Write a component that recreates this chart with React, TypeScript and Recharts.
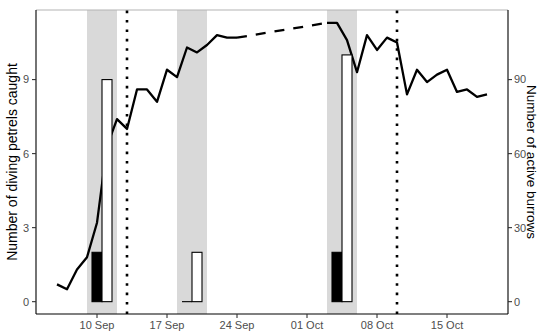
import React from 'react';
import { ComposedChart, Line, Bar, XAxis, YAxis, ReferenceArea, ReferenceLine } from 'recharts';

// Active burrows (right axis)
const burrowDates = [
  '2018-09-06', '2018-09-07', '2018-09-08', '2018-09-09', '2018-09-10', '2018-09-11',
  '2018-09-12', '2018-09-13', '2018-09-14', '2018-09-15', '2018-09-16', '2018-09-17',
  '2018-09-18', '2018-09-19', '2018-09-20', '2018-09-21', '2018-09-22', '2018-09-23',
  '2018-09-24',
  '2018-10-03', '2018-10-04', '2018-10-05', '2018-10-06', '2018-10-07', '2018-10-08',
  '2018-10-09', '2018-10-10', '2018-10-11', '2018-10-12', '2018-10-13', '2018-10-14',
  '2018-10-15', '2018-10-16', '2018-10-17', '2018-10-18', '2018-10-19',
];
const burrowCounts = [
  7, 5, 13, 18, 32, 63,
  74, 70, 86, 86, 81, 94,
  91, 103, 101, 104, 108, 107,
  107,
  113, 113, 106, 93, 108, 102,
  107, 105, 84, 94, 89, 92,
  94, 85, 86, 83, 84,
];

// Diving petrels caught (left axis)
const blackBarDates = ['2018-09-10', '2018-09-19', '2018-10-04'];
const blackBarCounts = [2, 0, 2];
const whiteBarDates = ['2018-09-11', '2018-09-20', '2018-10-05'];
const whiteBarCounts = [9, 2, 10];

// Shaded periods and dotted markers
const shadeStarts = ['2018-09-09', '2018-09-18', '2018-10-03'];
const shadeEnds = ['2018-09-12', '2018-09-21', '2018-10-06'];
const dottedDates = ['2018-09-13', '2018-10-10'];

// Axis ticks
const tickDates = ['2018-09-10', '2018-09-17', '2018-09-24', '2018-10-01', '2018-10-08', '2018-10-15'];
const tickLabels = ['10 Sep', '17 Sep', '24 Sep', '01 Oct', '08 Oct', '15 Oct'];
const leftTicks = [0, 3, 6, 9];
const rightTicks = [0, 30, 60, 90];
const leftDomain = [-0.5, 11.82];
const rightDomain = [-5, 118.2];

const toDay = (s: string) =>
  Date.UTC(+s.slice(0, 4), +s.slice(5, 7) - 1, +s.slice(8, 10)) / 86400000;

const anchorDay = toDay('2018-09-10');
const xDomain = [anchorDay - 6.1, anchorDay + 41.1];

const burrowDays = burrowDates.map(toDay);
const allDays = [
  ...burrowDays,
  ...blackBarDates.map(toDay),
  ...whiteBarDates.map(toDay),
];
const firstDay = Math.min(...allDays);
const lastDay = Math.max(...allDays);

const gapEnds = new Set<number>();
for (let i = 0; i + 1 < burrowDays.length; i++) {
  if (burrowDays[i + 1] - burrowDays[i] > 1) {
    gapEnds.add(burrowDays[i]);
    gapEnds.add(burrowDays[i + 1]);
  }
}

const data: any[] = [];
for (let d = firstDay; d <= lastDay; d++) {
  const row: any = { day: d, burrows: null, gap: null, caught: null, kind: null };
  const bi = burrowDays.indexOf(d);
  if (bi >= 0) {
    row.burrows = burrowCounts[bi];
    if (gapEnds.has(d)) row.gap = burrowCounts[bi];
  }
  const ki = blackBarDates.map(toDay).indexOf(d);
  if (ki >= 0) {
    row.caught = blackBarCounts[ki];
    row.kind = 'black';
  }
  const wi = whiteBarDates.map(toDay).indexOf(d);
  if (wi >= 0) {
    row.caught = whiteBarCounts[wi];
    row.kind = 'white';
  }
  data.push(row);
}

const tickDays = tickDates.map(toDay);
const fmtTick = (v: number) => {
  const i = tickDays.indexOf(v);
  return i >= 0 ? tickLabels[i] : '';
};

const FONT = '"Liberation Sans", Arial, Helvetica, sans-serif';
const tickStyle = { fill: '#4d4d4d', fontSize: 11, fontFamily: FONT };
const axisLineStyle = { stroke: '#000', strokeWidth: 1.1 };
const tickLineStyle = { stroke: '#333', strokeWidth: 1.1 };

const BarShape = (props: any) => {
  const { x, y, width, height, payload } = props;
  if (!payload || payload.caught == null) return <g />;
  if (!height) {
    return <line x1={x} x2={x + width} y1={y} y2={y} stroke="#000" strokeWidth={1.1} />;
  }
  return (
    <rect
      x={x}
      y={y}
      width={width}
      height={height}
      fill={payload.kind === 'black' ? '#000' : '#fff'}
      stroke="#000"
      strokeWidth={1.1}
    />
  );
};

const LeftTitle = (props: any) => {
  const vb = props.viewBox || { x: 0, y: 10, width: 36, height: 304 };
  const cx = vb.x + 17;
  const cy = vb.y + vb.height / 2;
  return (
    <text
      transform={`translate(${cx},${cy}) rotate(-90)`}
      textAnchor="middle"
      fontSize={14}
      fontFamily={FONT}
      fill="#000"
    >
      Number of diving petrels caught
    </text>
  );
};

const RightTitle = (props: any) => {
  const vb = props.viewBox || { x: 508, y: 10, width: 31, height: 304 };
  const cx = vb.x + 18.5;
  const cy = vb.y + vb.height / 2;
  return (
    <text
      transform={`translate(${cx},${cy}) rotate(90)`}
      textAnchor="middle"
      fontSize={13.5}
      fontFamily={FONT}
      fill="#000"
    >
      Number of active burrows
    </text>
  );
};

export default function App() {
  return (
    <div style={{ position: 'absolute', left: 0, top: 0, background: '#fff' }}>
      <ComposedChart
        width={539}
        height={333}
        data={data}
        margin={{ top: 10, right: 0, bottom: 0, left: 0 }}
        barCategoryGap={0}
        barGap={0}
      >
        <XAxis
          dataKey="day"
          type="number"
          scale="linear"
          domain={xDomain}
          allowDataOverflow
          ticks={tickDays}
          tickFormatter={fmtTick}
          interval={0}
          height={19}
          tickSize={4}
          tickMargin={3.5}
          tick={tickStyle}
          axisLine={axisLineStyle}
          tickLine={tickLineStyle}
        />
        <YAxis
          yAxisId="left"
          type="number"
          domain={leftDomain}
          allowDataOverflow
          ticks={leftTicks}
          interval={0}
          width={36}
          tickSize={4}
          tickMargin={3}
          tick={tickStyle}
          axisLine={axisLineStyle}
          tickLine={tickLineStyle}
          label={{ content: LeftTitle }}
        />
        <YAxis
          yAxisId="right"
          orientation="right"
          type="number"
          domain={rightDomain}
          allowDataOverflow
          ticks={rightTicks}
          interval={0}
          width={31}
          tickSize={4}
          tickMargin={2}
          tick={tickStyle}
          axisLine={axisLineStyle}
          tickLine={tickLineStyle}
          label={{ content: RightTitle }}
        />
        {shadeStarts.map((s, i) => (
          <ReferenceArea
            key={'shade' + i}
            yAxisId="left"
            x1={toDay(s)}
            x2={toDay(shadeEnds[i])}
            fill="#d9d9d9"
            fillOpacity={1}
            stroke="none"
            zIndex={50}
          />
        ))}
        <ReferenceLine
          yAxisId="left"
          y={leftDomain[1]}
          stroke="#b3b3b3"
          strokeWidth={1.1}
          zIndex={60}
        />
        <Line
          yAxisId="right"
          dataKey="burrows"
          stroke="#000"
          strokeWidth={2.3}
          dot={false}
          activeDot={false}
          connectNulls={false}
          strokeLinejoin="round"
          isAnimationActive={false}
          zIndex={250}
        />
        <Line
          yAxisId="right"
          dataKey="gap"
          stroke="#000"
          strokeWidth={2.3}
          strokeDasharray="10 9"
          dot={false}
          activeDot={false}
          connectNulls
          isAnimationActive={false}
          zIndex={250}
        />
        <Bar
          yAxisId="left"
          dataKey="caught"
          shape={BarShape}
          isAnimationActive={false}
          zIndex={300}
        />
        {dottedDates.map((s, i) => (
          <ReferenceLine
            key={'dot' + i}
            yAxisId="left"
            x={toDay(s)}
            stroke="#000"
            strokeWidth={2.6}
            strokeDasharray="2.6 6.8"
            zIndex={350}
          />
        ))}
      </ComposedChart>
    </div>
  );
}
